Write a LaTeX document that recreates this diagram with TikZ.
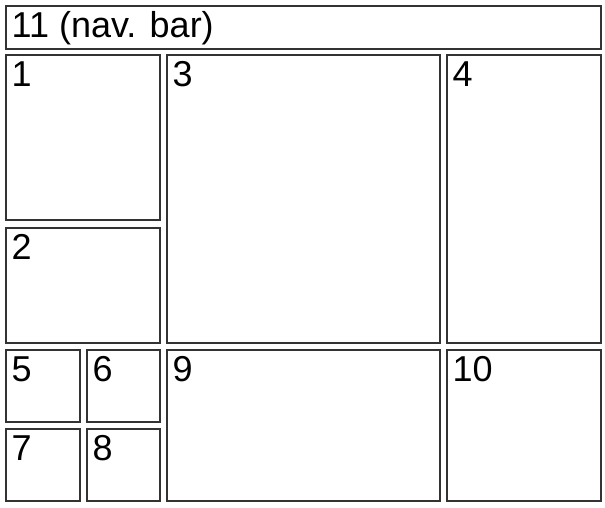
\documentclass[tikz,border=0pt]{standalone}
\usepackage{fontspec}
\setmainfont{Liberation Sans}
\begin{document}
\begin{tikzpicture}[x=1pt,y=-1pt,
  box/.style={draw=black!80,line width=2pt,fill=white,inner sep=0pt,outer sep=0pt},
  lbl/.style={anchor=base west,inner sep=0pt,font=\fontsize{36}{36}\selectfont}]
\useasboundingbox (0,0) rectangle (605,507);
\newcommand{\mybox}[6]{%
  \node[box,anchor=north west,minimum width=#4-#2,minimum height=#5-#3] (#1) at (#2,#3) {};
  \node[lbl] (#1t) at ([xshift=6pt,yshift=-31.5pt]#1.north west) {#6};}
\mybox{b11}{5.5}{5.5}{600.5}{48.5}{11 (nav. bar)}
\mybox{b1}{5.5}{54.5}{159.5}{219.5}{1}
\mybox{b2}{5.5}{227.5}{159.5}{342.5}{2}
\mybox{b3}{166.5}{54.5}{439.5}{342.5}{3}
\mybox{b4}{446.5}{54.5}{600.5}{342.5}{4}
\mybox{b5}{5.5}{349.5}{79.5}{421.5}{5}
\mybox{b6}{86.5}{349.5}{159.5}{421.5}{6}
\mybox{b7}{5.5}{428.5}{79.5}{500.5}{7}
\mybox{b8}{86.5}{428.5}{159.5}{500.5}{8}
\mybox{b9}{166.5}{349.5}{439.5}{500.5}{9}
\mybox{b10}{446.5}{349.5}{600.5}{500.5}{10}
\end{tikzpicture}
\end{document}
